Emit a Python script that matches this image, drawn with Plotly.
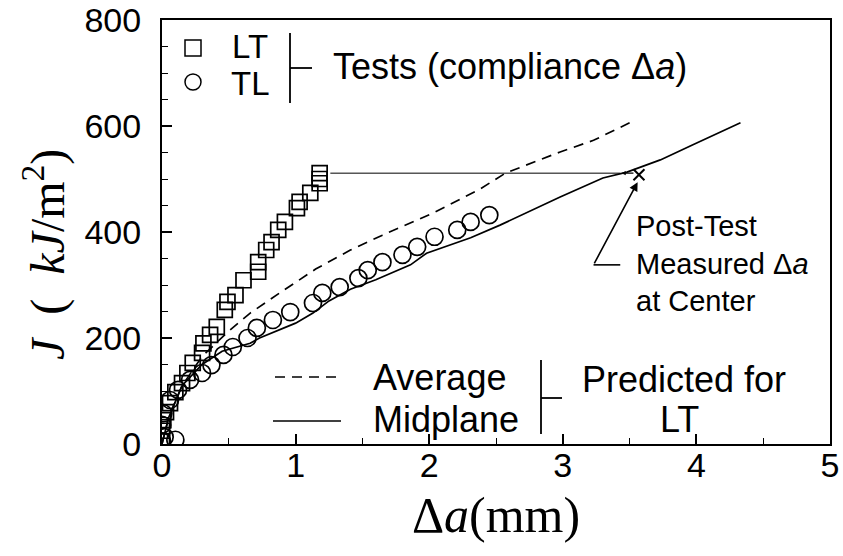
import plotly.graph_objects as go

# ---- test data: crack growth resistance J vs. crack extension (compliance) ----
lt_da = [0.00, 0.00, 0.01, 0.03, 0.06, 0.10, 0.15, 0.19, 0.23, 0.30, 0.31, 0.36,
         0.41, 0.47, 0.49, 0.55, 0.61, 0.72, 0.72, 0.78, 0.82, 0.87, 0.92, 1.01,
         1.03, 1.11, 1.18, 1.18, 1.18]
lt_j = [5, 25, 45, 60, 77, 98, 115, 134, 153, 172, 190, 206,
        221, 253, 268, 281, 309, 325, 343, 366, 381, 404, 419, 445,
        457, 474, 492, 500, 511]

tl_da = [0.00, 0.02, 0.10, 0.00, 0.01, 0.06, 0.12, 0.21, 0.30, 0.37, 0.46, 0.53,
         0.64, 0.71, 0.83, 0.96, 1.13, 1.20, 1.33, 1.47, 1.54, 1.65, 1.80, 1.91,
         2.04, 2.21, 2.31, 2.45]
tl_j = [5, 13, 8, 36, 58, 83, 102, 121, 134, 149, 168, 183,
        200, 219, 234, 249, 266, 285, 296, 313, 328, 343, 357, 372,
        391, 404, 419, 432]

# ---- predictions for LT ----
avg_da = [0.00, 0.05, 0.15, 0.30, 0.49, 0.66, 0.91, 1.15, 1.41, 1.65, 2.03, 2.38,
          2.57, 2.98, 3.23, 3.50]
avg_j = [0, 50, 110, 165, 211, 247, 290, 330, 366, 394, 436, 481,
         511, 551, 573, 606]

mid_da = [0.00, 0.05, 0.15, 0.30, 0.45, 0.66, 0.73, 1.00, 1.13, 1.25, 1.41, 1.60,
          1.86, 1.98, 2.31, 2.53, 2.98, 3.30, 3.48, 3.73, 3.97, 4.33]
mid_j = [0, 50, 110, 150, 175, 190, 200, 228, 247, 270, 292, 310,
         338, 360, 389, 413, 466, 502, 513, 536, 564, 606]

# post-test crack extension measured at the specimen center
post_da = [3.57]
post_j = [508]

x_ticks = [0, 1, 2, 3, 4, 5]
y_ticks = [0, 200, 400, 600, 800]

SANS = "Liberation Sans, Arial, sans-serif"
SERIF = "Liberation Serif, Times New Roman, serif"

W, H = 843, 556
ML, MR, MT, MB = 162, 13, 20, 112
PW, PH = W - ML - MR, H - MT - MB


def px(xp):
    return (xp - ML) / PW


def py(yp):
    return (H - MB - yp) / PH


def label(xp, yp, text, size=36, xanchor="center"):
    return dict(x=px(xp), y=py(yp), xref="paper", yref="paper", showarrow=False,
                xanchor=xanchor, yanchor="middle", text=text,
                font=dict(family=SANS, size=size, color="black"))


def seg(x0, y0, x1, y1, width=1.8, dash="solid"):
    return dict(type="line", xref="paper", yref="paper",
                x0=px(x0), x1=px(x1), y0=py(y0), y1=py(y1),
                line=dict(color="black", width=width, dash=dash))


fig = go.Figure()

fig.add_trace(go.Scatter(
    x=avg_da, y=avg_j, mode="lines",
    line=dict(color="black", width=1.7, dash="10px,7px"), showlegend=False))
fig.add_trace(go.Scatter(
    x=mid_da, y=mid_j, mode="lines",
    line=dict(color="black", width=1.7), showlegend=False))
fig.add_trace(go.Scatter(
    x=lt_da, y=lt_j, mode="markers",
    marker=dict(symbol="square-open", size=15, color="black", line=dict(width=1.7)),
    showlegend=False))
fig.add_trace(go.Scatter(
    x=tl_da, y=tl_j, mode="markers",
    marker=dict(symbol="circle-open", size=17, color="black", line=dict(width=1.7)),
    showlegend=False))
fig.add_trace(go.Scatter(
    x=post_da, y=post_j, mode="markers",
    marker=dict(symbol="x-thin", size=11, color="black", line=dict(width=2, color="black")),
    showlegend=False))

shapes = []
annotations = []

# line from the last LT test point across to the post-test measurement
shapes.append(dict(type="line", xref="x", yref="y",
                   x0=lt_da[-1] + 0.08, x1=3.43, y0=lt_j[-1], y1=lt_j[-1],
                   line=dict(color="black", width=1)))
annotations.append(dict(x=3.44, y=lt_j[-1], ax=post_da[0] - 0.03, ay=lt_j[-1],
                        xref="x", yref="y", axref="x", ayref="y", text="",
                        showarrow=True, arrowhead=2, arrowsize=0.7, arrowwidth=1.2,
                        arrowcolor="black"))

# callout arrow pointing at the measured value
annotations.append(dict(x=3.56, y=494, ax=3.23, ay=338,
                        xref="x", yref="y", axref="x", ayref="y", text="",
                        showarrow=True, arrowhead=2, arrowsize=1.1, arrowwidth=1.6,
                        arrowcolor="black"))
shapes.append(dict(type="line", xref="x", yref="y", x0=3.23, x1=3.43, y0=338, y1=338,
                   line=dict(color="black", width=1.6)))
annotations.append(dict(x=3.53, y=341, xref="x", yref="y", xanchor="left", yanchor="middle",
                        align="left", showarrow=False,
                        text="Post-Test<br>Measured Δ<i>a</i><br>at Center",
                        font=dict(family=SANS, size=29, color="black")))

# ---- key for the test series ----
shapes.append(dict(type="rect", xref="paper", yref="paper",
                   x0=px(185), x1=px(201), y0=py(56), y1=py(40),
                   line=dict(color="black", width=1.5)))
shapes.append(dict(type="circle", xref="paper", yref="paper",
                   x0=px(185), x1=px(201), y0=py(90), y1=py(74),
                   line=dict(color="black", width=1.5)))
annotations.append(label(250, 47, "LT", size=33))
annotations.append(label(250, 83, "TL", size=33))
shapes.append(seg(290, 33, 290, 103))
shapes.append(seg(290, 68, 312, 68))
annotations.append(label(331, 66, "Tests (compliance Δ<i>a</i>)", xanchor="left"))

# ---- key for the predictions ----
shapes.append(seg(275, 377, 343, 377, width=1.6, dash="10px,7px"))
shapes.append(seg(273, 421, 341, 421, width=1.6))
annotations.append(label(371, 377, "Average", xanchor="left"))
annotations.append(label(371, 419, "Midplane", xanchor="left"))
shapes.append(seg(541, 360, 541, 434))
shapes.append(seg(541, 398, 562, 398))
annotations.append(label(684, 379, "Predicted for"))
annotations.append(label(679, 419, "LT"))

# rotated y-axis title
annotations.append(dict(x=px(44), y=py(255), xref="paper", yref="paper", showarrow=False,
                        xanchor="center", yanchor="middle", textangle=-90,
                        text="<i>J</i>  (  <i>kJ</i>/m<sup>2</sup>)",
                        font=dict(family=SERIF, size=48, color="black")))

axis_common = dict(
    showline=True, linecolor="black", linewidth=2, mirror=True,
    showgrid=False, zeroline=False, automargin=False,
    ticks="inside", ticklen=10, tickwidth=1.6, tickcolor="black",
    tickfont=dict(family=SANS, size=34, color="black"),
)

fig.update_layout(
    width=W, height=H,
    margin=dict(l=ML, r=MR, t=MT, b=MB),
    paper_bgcolor="white", plot_bgcolor="white",
    shapes=shapes, annotations=annotations,
    xaxis=dict(range=[0, 5], tickvals=x_ticks, ticktext=[str(v) for v in x_ticks],
               minor=dict(dtick=0.5, ticks="inside", ticklen=6, tickwidth=1.4, tickcolor="black"),
               ticklabelstandoff=-10,
               title=dict(text="Δ<i>a</i>(mm)", font=dict(family=SERIF, size=50, color="black"),
                          standoff=14),
               **axis_common),
    yaxis=dict(range=[0, 800], tickvals=y_ticks, ticktext=[str(v) for v in y_ticks],
               minor=dict(dtick=50, ticks="inside", ticklen=6, tickwidth=1.4, tickcolor="black"),
               ticklabelstandoff=12,
               **axis_common),
)

fig.write_html("out.html")
